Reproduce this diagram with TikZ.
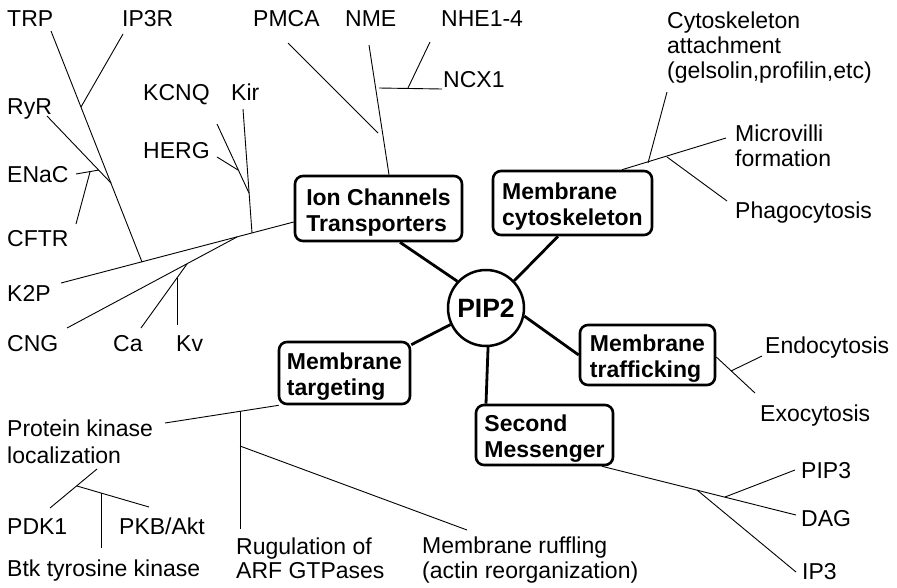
\documentclass[tikz,border=0pt]{standalone}
\usepackage{fontspec}
\setmainfont{Liberation Sans}
\newcommand\bxstrut{\rule{0pt}{24pt}}
\begin{document}
\begin{tikzpicture}[x=1pt,y=-1pt,
  lbl/.style={anchor=north west, inner sep=0pt, align=left, font=\fontsize{23}{25}\selectfont},
  box/.style={draw, line width=2.6pt, rounded corners=8pt, align=left, inner sep=0pt,
              font=\bfseries\fontsize{23}{26}\selectfont},
  tl/.style={line width=0.9pt},
  conn/.style={line width=2.8pt}]
\useasboundingbox (0,0) rectangle (897,587);

% central node and category boxes
\node[circle, draw, line width=2.5pt, minimum size=76pt, inner sep=0pt,
      font=\bfseries\fontsize{26.5}{30}\selectfont] (pip) at (486,308) {PIP2};
\node[box, minimum width=167pt, minimum height=65pt] (ion) at (378.5,208.5) {\bxstrut Ion Channels\\Transporters};
\node[box, minimum width=159pt, minimum height=64pt] (cyto) at (572.5,203) {\bxstrut Membrane\\cytoskeleton};
\node[box, minimum width=135pt, minimum height=60pt] (traf) at (647.5,355) {\bxstrut Membrane\\trafficking};
\node[box, minimum width=137pt, minimum height=60pt] (sm) at (544.5,435) {\bxstrut Second\\Messenger};
\node[box, minimum width=131pt, minimum height=62pt] (targ) at (344.5,373) {\bxstrut Membrane\\targeting};

% thick connectors
\draw[conn] (pip.137) -- ([xshift=21.5pt]ion.south);
\draw[conn] (pip.44) -- ([xshift=-14.5pt]cyto.south);
\draw[conn] (pip.-12) -- (traf.west);
\draw[conn] (pip.-87) -- ([xshift=-58.5pt]sm.north);
\draw[conn] (pip.205) -- ([yshift=-4pt]targ.north east);

% labels
\node[lbl] (trp) at (7,10) {TRP};
\node[lbl] (ip3r) at (122,10) {IP3R};
\node[lbl] (pmca) at (253,10) {PMCA};
\node[lbl] (nme) at (345,10) {NME};
\node[lbl] (nhe) at (441,10) {NHE1-4};
\node[lbl] (ncx) at (443,71) {NCX1};
\node[lbl] (kcnq) at (143,84) {KCNQ};
\node[lbl] (kir) at (231,84) {Kir};
\node[lbl] (ryr) at (7,98) {RyR};
\node[lbl] (herg) at (143,142) {HERG};
\node[lbl] (enac) at (7,166) {ENaC};
\node[lbl] (cftr) at (7,230) {CFTR};
\node[lbl] (k2p) at (7,285) {K2P};
\node[lbl] (cng) at (7,335) {CNG};
\node[lbl] (ca) at (113,335) {Ca};
\node[lbl] (kv) at (176,335) {Kv};
\node[lbl] (att) at (667,12) {Cytoskeleton\\attachment\\(gelsolin,profilin,etc)};
\node[lbl] (micro) at (735,125) {Microvilli\\formation};
\node[lbl] (phago) at (735,202) {Phagocytosis};
\node[lbl] (endo) at (765,337) {Endocytosis};
\node[lbl] (exo) at (760,405) {Exocytosis};
\node[lbl] (pip3) at (801,462) {PIP3};
\node[lbl] (dag) at (801,510) {DAG};
\node[lbl] (ip3) at (802,563) {IP3};
\node[lbl, font=\fontsize{23}{27}\selectfont] (pk) at (7,420) {Protein kinase\\localization};
\node[lbl] (pdk) at (7,518) {PDK1};
\node[lbl] (pkb) at (119,518) {PKB/Akt};
\node[lbl] (btk) at (7,560) {Btk tyrosine kinase};
\node[lbl, font=\fontsize{23}{24}\selectfont] (arf) at (236,538) {Rugulation of\\ARF GTPases};
\node[lbl] (ruff) at (422,537) {Membrane ruffling\\(actin reorganization)};

% coordinates: ion channel tree
\coordinate (k2pE) at (61,283);
\coordinate (trpE) at (51,31);   \coordinate (jTrp) at (142,262);
\coordinate (ip3rE) at (123,34); \coordinate (jIp3r) at (81,107);
\coordinate (ryrE) at (47,116);  \coordinate (jRyr) at (111,183);
\coordinate (enacE) at (76,174); \coordinate (jEnac) at (99,170);
\coordinate (cftrE) at (76,224); \coordinate (jCftr) at (90,172);
\coordinate (cngE) at (67,328);  \coordinate (jCng) at (237,237);
\coordinate (caE) at (141,328);  \coordinate (jCa) at (187,264);
\coordinate (kvE) at (177,325);  \coordinate (jKv) at (177,278);
\coordinate (kirE) at (243,109); \coordinate (jKir) at (252,233);
\coordinate (kcnqE) at (217,124);\coordinate (jKcnq) at (249,193);
\coordinate (hergE) at (217,157);\coordinate (jHerg) at (238,170);
\coordinate (nmeE) at (369,45);
\coordinate (pmcaE) at (288,43); \coordinate (jPmca) at (378,133);
\coordinate (ncxS) at (379,88);  \coordinate (ncxE) at (442,89);
\coordinate (nheE) at (430,42);  \coordinate (jNhe) at (408,88);

\draw[tl] (k2pE) -- ([yshift=-13.5pt]ion.west);
\draw[tl] (trpE) -- (jTrp);
\draw[tl] (ip3rE) -- (jIp3r);
\draw[tl] (ryrE) -- (jRyr);
\draw[tl] (enacE) -- (jEnac);
\draw[tl] (cftrE) -- (jCftr);
\draw[tl] (cngE) -- (jCng);
\draw[tl] (caE) -- (jCa);
\draw[tl] (kvE) -- (jKv);
\draw[tl] (kirE) -- (jKir);
\draw[tl] (kcnqE) -- (jKcnq);
\draw[tl] (hergE) -- (jHerg);
\draw[tl] (nmeE) -- ([xshift=10.5pt]ion.north);
\draw[tl] (pmcaE) -- (jPmca);
\draw[tl] (ncxS) -- (ncxE);
\draw[tl] (nheE) -- (jNhe);

% cytoskeleton tree
\coordinate (microE) at (726,138);
\coordinate (attE) at (667,92);   \coordinate (jAtt) at (648,163);
\coordinate (jPhago) at (667,157);\coordinate (phagoE) at (727,201);
\draw[tl] ([xshift=49.5pt]cyto.north) -- (microE);
\draw[tl] (attE) -- (jAtt);
\draw[tl] (jPhago) -- (phagoE);

% trafficking tree
\coordinate (exoE) at (755,393);
\coordinate (endoE) at (762,356); \coordinate (jEndo) at (731,371);
\draw[tl] ([yshift=-2pt]traf.east) -- (exoE);
\draw[tl] (endoE) -- (jEndo);

% second messenger tree
\coordinate (dagE) at (796,515);
\coordinate (pip3E) at (795,470); \coordinate (jPip3) at (725,497);
\coordinate (jIp3) at (697,490);  \coordinate (ip3E) at (796,572);
\draw[tl] ([xshift=57.5pt]sm.south) -- (dagE);
\draw[tl] (pip3E) -- (jPip3);
\draw[tl] (jIp3) -- (ip3E);

% targeting tree
\coordinate (pkE) at (165,423);
\coordinate (jArf) at (240,411);  \coordinate (arfE) at (240,529);
\coordinate (jRuff) at (240,446); \coordinate (ruffE) at (467,530);
\coordinate (locE) at (97,469);   \coordinate (pdkE) at (50,508);
\coordinate (jPkb) at (77,486);   \coordinate (pkbE) at (149,507);
\coordinate (jBtk) at (101,493);  \coordinate (btkE) at (101,548);
\draw[tl] (pkE) -- ([xshift=1pt]targ.south west);
\draw[tl] (jArf) -- (arfE);
\draw[tl] (jRuff) -- (ruffE);
\draw[tl] (locE) -- (pdkE);
\draw[tl] (jPkb) -- (pkbE);
\draw[tl] (jBtk) -- (btkE);
\end{tikzpicture}
\end{document}
